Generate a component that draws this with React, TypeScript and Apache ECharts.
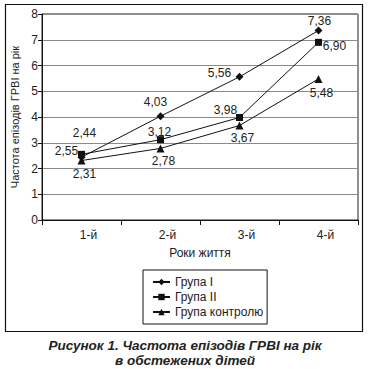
import React, { useEffect, useRef } from "react";
import * as echarts from "echarts";

const categories = ["1-й", "2-й", "3-й", "4-й"];
const seriesNames = ["Група I", "Група II", "Група контролю"];
const groupI = [2.44, 4.03, 5.56, 7.36];
const groupII = [2.55, 3.12, 3.98, 6.9];
const control = [2.31, 2.78, 3.67, 5.48];
const yTicks = { min: 0, max: 8, interval: 1 };
const yTitle = "Частота епізодів ГРВІ на рік";
const xTitle = "Роки життя";
const captionLines = ["Рисунок 1. Частота епізодів ГРВІ на рік", "в обстежених дітей"];

// label offsets (styling)
const offsetsI = [[3, -24], [-5, -14], [-20, -4], [1, -9]];
const offsetsII = [[-15, -3], [-1, -8], [-14, -8], [16, 4]];
const offsetsC = [[3, 13], [3, 13], [3, 13], [3, 14]];

const fmt = (v: number) => v.toFixed(2).replace(".", ",");
const FONT = "Liberation Sans, Arial, sans-serif";
const NARROW = "Liberation Sans Narrow, Arial Narrow, Liberation Sans, sans-serif";

function mk(name: string, values: number[], offsets: number[][], symbol: string, size: number) {
  return {
    name,
    type: "line",
    symbol,
    symbolSize: size,
    itemStyle: { color: "#111" },
    lineStyle: { color: "#111", width: 1 },
    data: values.map((v, i) => ({
      value: v,
      label: { offset: offsets[i] },
    })),
    label: {
      show: true,
      position: "inside",
      align: "center",
      verticalAlign: "middle",
      color: "#222",
      fontSize: 12,
      fontFamily: FONT,
      formatter: (p: any) => fmt(p.value),
    },
  };
}

export default function App() {
  const ref = useRef<HTMLDivElement>(null);
  useEffect(() => {
    document.body.style.margin = "0";
    const chart = echarts.init(ref.current!, null, { renderer: "svg" });
    chart.setOption({
      animation: false,
      backgroundColor: "#fff",
      grid: {
        left: 42,
        top: 14,
        right: 11,
        bottom: 149,
        show: true,
        borderColor: "#222",
        borderWidth: 1,
      },
      xAxis: {
        type: "category",
        data: categories,
        boundaryGap: true,
        axisLine: { lineStyle: { color: "#111", width: 1 } },
        axisTick: { show: true, length: 5, lineStyle: { color: "#111" } },
        axisLabel: {
          color: "#222",
          fontSize: 12,
          fontFamily: NARROW,
          margin: 9,
          padding: [0, 0, 0, 14],
        },
        name: xTitle,
        nameLocation: "middle",
        nameGap: 27,
        nameTextStyle: { color: "#222", fontSize: 12, fontFamily: NARROW },
      },
      yAxis: {
        type: "value",
        min: yTicks.min,
        max: yTicks.max,
        interval: yTicks.interval,
        axisLine: { show: true, lineStyle: { color: "#111", width: 1 } },
        axisTick: { show: true, length: 4, lineStyle: { color: "#111" } },
        axisLabel: { color: "#222", fontSize: 12, fontFamily: FONT, margin: 4 },
        splitLine: { show: true, lineStyle: { color: "#8a8a8a", width: 1 } },
        name: yTitle,
        nameLocation: "middle",
        nameGap: 22,
        nameTextStyle: { color: "#222", fontSize: 11, fontFamily: FONT },
      },
      legend: {
        orient: "vertical",
        left: 143,
        top: 270,
        data: seriesNames,
        borderColor: "#111",
        borderWidth: 1,
        padding: [5, 4, 5, 9],
        itemGap: 1,
        itemWidth: 17,
        itemHeight: 8,
        textStyle: { color: "#222", fontSize: 12, fontFamily: NARROW, lineHeight: 14 },
      },
      graphic: [
        {
          type: "rect",
          shape: { x: 5.5, y: 4.5, width: 357, height: 327 },
          style: { fill: "none", stroke: "#111", lineWidth: 1.2 },
          silent: true,
        },
        {
          type: "text",
          x: 185,
          y: 345,
          style: {
            text: captionLines[0],
            fill: "#222",
            font: "italic bold 13.5px " + FONT,
            align: "center",
            verticalAlign: "middle",
          },
        },
        {
          type: "text",
          x: 185,
          y: 360,
          style: {
            text: captionLines[1],
            fill: "#222",
            font: "italic bold 13.5px " + FONT,
            align: "center",
            verticalAlign: "middle",
          },
        },
      ],
      series: [
        mk(seriesNames[0], groupI, offsetsI, "diamond", 8),
        mk(seriesNames[1], groupII, offsetsII, "rect", 7),
        mk(seriesNames[2], control, offsetsC, "triangle", 8),
      ],
    });
    return () => chart.dispose();
  }, []);
  return (
    <div
      ref={ref}
      style={{ position: "absolute", left: 0, top: 0, width: 369, height: 369 }}
    />
  );
}
